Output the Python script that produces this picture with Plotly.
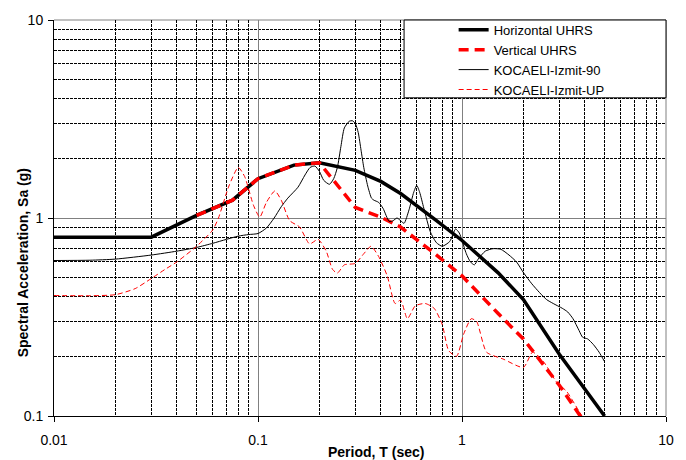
import plotly.graph_objects as go

# Uniform hazard response spectra (period in sec, Sa in g)
period_h = [0.01, 0.02, 0.03, 0.05, 0.075, 0.1, 0.15, 0.2, 0.3, 0.4, 0.5, 0.75,
            1.0, 1.5, 2.0, 3.0, 4.0, 5.0]
sa_horizontal = [0.80, 0.80, 0.80, 1.03, 1.23, 1.58, 1.85, 1.90, 1.74, 1.53, 1.33,
                 0.97, 0.77, 0.53, 0.387, 0.205, 0.137, 0.10]

period_v = [0.05, 0.075, 0.1, 0.15, 0.2, 0.3, 0.4, 0.5, 0.75, 1.0, 1.5, 2.0, 3.0,
            4.0, 5.0]
sa_vertical = [1.03, 1.23, 1.58, 1.85, 1.90, 1.13, 1.01, 0.90, 0.65, 0.51, 0.33,
               0.245, 0.143, 0.093, 0.066]

# Kocaeli (Izmit) record spectra
period_90 = [0.01, 0.015, 0.02, 0.03, 0.04, 0.05, 0.06, 0.07, 0.08, 0.09, 0.1, 0.11,
             0.12, 0.13, 0.14, 0.157, 0.17, 0.18, 0.19, 0.2, 0.21, 0.224, 0.235,
             0.245, 0.255, 0.265, 0.28, 0.29, 0.3, 0.31, 0.32, 0.33, 0.345, 0.36,
             0.37, 0.39, 0.41, 0.44, 0.46, 0.48, 0.5, 0.52, 0.55, 0.58, 0.6, 0.62,
             0.65, 0.7, 0.75, 0.8, 0.87, 0.93, 0.97, 1.0, 1.05, 1.1, 1.15, 1.2, 1.3,
             1.42, 1.55, 1.7, 1.85, 2.0, 2.2, 2.4, 2.6, 2.8, 3.1, 3.3, 3.5, 3.75,
             3.9, 4.13, 4.4, 4.7, 5.0]
sa_90 = [0.61, 0.612, 0.62, 0.65, 0.68, 0.71, 0.745, 0.78, 0.81, 0.825, 0.835, 0.89,
         1.0, 1.14, 1.26, 1.43, 1.65, 1.80, 1.83, 1.72, 1.55, 1.48, 1.58, 1.80, 2.3,
         2.85, 3.08, 3.10, 3.0, 2.7, 2.2, 1.8, 1.45, 1.26, 1.23, 1.2, 1.12, 0.96,
         0.97, 1.0, 0.97, 0.94, 1.1, 1.35, 1.46, 1.35, 1.12, 0.85, 0.75, 0.72, 0.76,
         0.88, 0.84, 0.77, 0.66, 0.6, 0.58, 0.62, 0.68, 0.70, 0.695, 0.65, 0.60,
         0.53, 0.465, 0.42, 0.387, 0.37, 0.35, 0.335, 0.31, 0.27, 0.25, 0.245, 0.23,
         0.21, 0.188]

period_up = [0.01, 0.015, 0.02, 0.025, 0.03, 0.035, 0.04, 0.05, 0.06, 0.064, 0.072,
             0.08, 0.086, 0.095, 0.102, 0.11, 0.121, 0.13, 0.143, 0.16, 0.179, 0.197,
             0.216, 0.232, 0.245, 0.265, 0.30, 0.33, 0.358, 0.39, 0.43, 0.47, 0.50,
             0.54, 0.59, 0.66, 0.73, 0.80, 0.86, 0.94, 1.02, 1.11, 1.18, 1.32, 1.59,
             2.0, 2.22, 2.52, 2.9, 3.26, 3.76, 4.0]
sa_up = [0.406, 0.405, 0.41, 0.44, 0.495, 0.55, 0.60, 0.72, 0.87, 1.0, 1.45, 1.80,
         1.62, 1.16, 1.01, 1.20, 1.37, 1.23, 0.97, 0.90, 0.74, 0.78, 0.68, 0.55,
         0.527, 0.58, 0.59, 0.66, 0.72, 0.64, 0.51, 0.37, 0.385, 0.31, 0.36, 0.37,
         0.35, 0.29, 0.214, 0.20, 0.26, 0.31, 0.30, 0.21, 0.194, 0.176, 0.21, 0.187,
         0.149, 0.133, 0.105, 0.095]

# Axis tick labels
x_ticks = [0.01, 0.1, 1, 10]
x_tick_text = ["0.01", "0.1", "1", "10"]
y_ticks = [0.1, 1, 10]
y_tick_text = ["0.1", "1", "10"]

FONT = "Liberation Sans, Arial, sans-serif"

fig = go.Figure()
fig.add_trace(go.Scatter(x=period_h, y=sa_horizontal, mode="lines",
                         name="Horizontal UHRS",
                         line=dict(color="black", width=3.5)))
fig.add_trace(go.Scatter(x=period_v, y=sa_vertical, mode="lines",
                         name="Vertical UHRS",
                         line=dict(color="#ff0000", width=3.5, dash="10px,6px")))
fig.add_trace(go.Scatter(x=period_90, y=sa_90, mode="lines",
                         name="KOCAELI-Izmit-90",
                         line=dict(color="black", width=1, shape="spline",
                                   smoothing=0.6)))
fig.add_trace(go.Scatter(x=period_up, y=sa_up, mode="lines",
                         name="KOCAELI-Izmit-UP",
                         line=dict(color="#ff0000", width=1, dash="5px,3px",
                                   shape="spline", smoothing=0.6)))

minor_x = [m * 10 ** e for e in (-2, -1, 0) for m in range(2, 10)]
minor_y = [m * 10 ** e for e in (-1, 0) for m in range(2, 10)]

axis_common = dict(
    type="log", showgrid=True, gridcolor="#808080", gridwidth=1,
    ticks="outside", ticklen=5, tickcolor="black", tickwidth=1,
    showline=True, linecolor="black", linewidth=1, zeroline=False,
    tickfont=dict(family=FONT, size=14, color="black"),
)

fig.update_xaxes(
    range=[-2, 1], tickvals=x_ticks, ticktext=x_tick_text,
    ticklabelstandoff=6,
    minor=dict(tickvals=minor_x, showgrid=True, gridcolor="black",
               griddash="3px,1px", gridwidth=1, ticks=""),
    **axis_common,
)
fig.update_yaxes(
    range=[-1, 1], tickvals=y_ticks, ticktext=y_tick_text,
    ticklabelstandoff=2,
    minor=dict(tickvals=minor_y, showgrid=True, gridcolor="black",
               griddash="3px,1px", gridwidth=1, ticks=""),
    **axis_common,
)

# Top and right frame edges
fig.add_shape(type="line", xref="paper", yref="paper", x0=0, x1=1, y0=1, y1=1,
              line=dict(color="#808080", width=1), layer="between")
fig.add_shape(type="line", xref="paper", yref="paper", x0=1, x1=1, y0=0, y1=1,
              line=dict(color="#808080", width=1), layer="between")

# Legend frame
fig.add_shape(type="rect", xref="paper", yref="paper", x0=0.572, x1=1.0,
              y0=0.8035, y1=1.0, fillcolor="white",
              line=dict(color="black", width=1), layer="above")

fig.add_annotation(text="<b>Period, T (sec)</b>", xref="paper", yref="paper",
                   x=0.526, y=-0.09, xanchor="center", yanchor="middle",
                   showarrow=False, font=dict(family=FONT, size=14, color="black"))
fig.add_annotation(text="<b>Spectral Acceleration, Sa (g)</b>", xref="paper",
                   yref="paper", x=-0.0503, y=0.386, textangle=-90,
                   xanchor="center", yanchor="middle", showarrow=False,
                   font=dict(family=FONT, size=14, color="black"))

fig.update_layout(
    width=686, height=460,
    margin=dict(l=54, r=16, t=18, b=43),
    paper_bgcolor="white", plot_bgcolor="white",
    font=dict(family=FONT, size=14, color="black"),
    legend=dict(x=0.653, y=1.013, xanchor="left", yanchor="top",
                bgcolor="rgba(0,0,0,0)", borderwidth=0,
                font=dict(family=FONT, size=13, color="black"),
                tracegroupgap=0),
    showlegend=True,
)

fig.write_html("out.html")
